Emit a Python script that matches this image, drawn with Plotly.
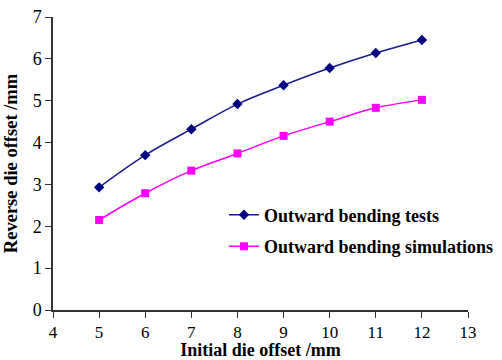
import plotly.graph_objects as go

x_vals = [5, 6, 7, 8, 9, 10, 11, 12]
tests = [2.93, 3.70, 4.32, 4.92, 5.37, 5.78, 6.14, 6.45]
sims = [2.15, 2.79, 3.33, 3.74, 4.16, 4.50, 4.83, 5.02]

font_family = "Liberation Serif, Times New Roman, serif"

fig = go.Figure()
fig.add_trace(go.Scatter(
    x=x_vals, y=tests, mode="lines+markers", name="Outward bending tests",
    line=dict(color="#1a1a8c", width=1.5, shape="spline"),
    marker=dict(symbol="diamond", size=8, color="#000080"),
    legendgroup="a"))
fig.add_trace(go.Scatter(
    x=x_vals, y=sims, mode="lines+markers", name="Outward bending simulations",
    line=dict(color="#ff00ff", width=1.5, shape="spline"),
    marker=dict(symbol="square", size=8, color="#ff00ff"),
    legendgroup="b"))

fig.update_layout(
    width=502, height=360,
    margin=dict(l=53, r=34, t=17, b=50, autoexpand=False),
    paper_bgcolor="white", plot_bgcolor="white",
    font=dict(family=font_family, color="black"),
    showlegend=True,
    legend=dict(x=0.412, y=0.387, xanchor="left", yanchor="top",
                font=dict(size=18, family=font_family, weight="bold"),
                bgcolor="rgba(0,0,0,0)", tracegroupgap=5),
    xaxis=dict(range=[4, 13], dtick=1, tick0=4, showline=True, linecolor="#333",
               linewidth=1.5, ticks="outside", ticklen=6, tickcolor="#333",
               showgrid=False, zeroline=False,
               tickfont=dict(size=17, family=font_family),
               title=dict(text="<b>Initial die offset /mm</b>", font=dict(size=18, family=font_family), standoff=9)),
    yaxis=dict(range=[0, 7], dtick=1, showline=True, linecolor="#333",
               linewidth=1.5, ticks="outside", ticklen=6, tickcolor="#333",
               showgrid=False, zeroline=False,
               tickfont=dict(size=18, family=font_family),
               title=dict(text="<b>Reverse die offset /mm</b>", font=dict(size=18.5, family=font_family), standoff=10)),
)

fig.write_html("out.html", config={"displayModeBar": False})
